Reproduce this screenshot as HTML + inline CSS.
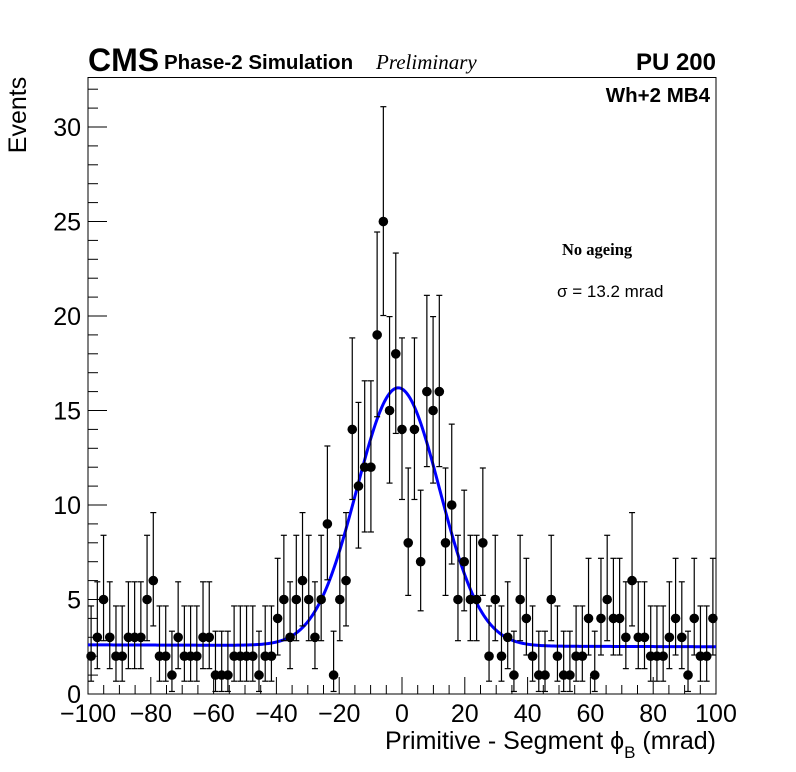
<!DOCTYPE html>
<html><head><meta charset="utf-8"><style>
html,body{margin:0;padding:0;background:#fff;}
svg{display:block;font-family:"Liberation Sans",sans-serif;}
</style></head><body>
<svg id="chart" width="796" height="772" viewBox="0 0 796 772">
<rect x="0" y="0" width="796" height="772" fill="#fff"/>
<g id="axes"></g>
<g id="fit"></g>
<g id="pts"></g>
<text x="88" y="71" font-size="32" font-weight="bold">CMS</text>
<text x="164" y="69" font-size="20.5" font-weight="bold">Phase-2 Simulation</text>
<text x="376" y="69" font-size="21" font-style="italic" font-family="Liberation Serif, serif">Preliminary</text>
<text x="716" y="70" font-size="24" font-weight="bold" text-anchor="end">PU 200</text>
<text x="710" y="102" font-size="20.5" font-weight="bold" text-anchor="end">Wh+2 MB4</text>
<text x="562" y="255" font-size="16.5" font-weight="bold" font-family="Liberation Serif, serif">No ageing</text>
<text x="557" y="297" font-size="17">σ = 13.2 mrad</text>
<text transform="translate(26,115) rotate(-90)" font-size="25" text-anchor="middle">Events</text>
<text x="716" y="749" font-size="25" text-anchor="end">Primitive - Segment ϕ<tspan font-size="17" dy="9">B</tspan><tspan dy="-9"> (mrad)</tspan></text>
</svg>
<script>
const counts=[2,3,5,3,2,2,3,3,3,5,6,2,2,1,3,2,2,2,3,3,1,1,1,2,2,2,2,1,2,2,4,5,3,5,6,5,3,5,9,1,5,6,14,11,12,12,19,25,15,18,14,8,14,7,16,15,16,8,10,5,7,5,5,8,2,5,2,3,1,5,4,2,1,1,5,2,1,1,2,2,4,1,4,5,4,4,3,6,3,3,2,2,2,3,4,3,1,4,2,2,4];
const xTicks=[-100,-80,-60,-40,-20,0,20,40,60,80,100];
const yTicks=[0,5,10,15,20,25,30];
const fitAmp=[13.65];
const fitMean=[-1.2];
const fitSigma=[13.2];
const fitConst=[2.6,2.5];
const NS="http://www.w3.org/2000/svg";
const X0=88,X1=716,Y0=694,YT=77.5,XMIN=-100,XMAX=100;
const sx=v=>X0+(v-XMIN)/(XMAX-XMIN)*(X1-X0);
const sy=v=>Y0-v*(567/30);
function mk(tag,attrs,parent){const e=document.createElementNS(NS,tag);for(const k in attrs)e.setAttribute(k,attrs[k]);parent.appendChild(e);return e;}
const axes=document.getElementById('axes');
const fr=mk('rect',{x:X0,y:YT,width:X1-X0,height:Y0-YT,fill:'none',stroke:'#000','stroke-width':1},axes);


for(let v=XMIN;v<=XMAX;v+=5){const major=(v%20===0);
 const t=mk('line',{x1:sx(v),x2:sx(v),y1:Y0,y2:Y0-(major?17:9),stroke:'#000','stroke-width':1},axes);
 
 }
xTicks.forEach(v=>{const t=mk('text',{x:sx(v),y:722,'font-size':25,'text-anchor':'middle'},axes);t.textContent=(v<0?'\u2212':'')+Math.abs(v);
 
 });
for(let v=0;v<=32;v++){const major=(v%5===0);
 const t=mk('line',{x1:X0,x2:X0+(major?19:10),y1:sy(v),y2:sy(v),stroke:'#000','stroke-width':1},axes);
 
 }
yTicks.forEach(v=>{const t=mk('text',{x:81,y:sy(v)+9,'font-size':25,'text-anchor':'end'},axes);t.textContent=v;
 
 });
const fg=document.getElementById('fit');let d='';
for(let i=0;i<=400;i++){const x=XMIN+i*(XMAX-XMIN)/400;
 const c=fitConst[0]+(fitConst[1]-fitConst[0])*(x-XMIN)/(XMAX-XMIN);
 const y=c+fitAmp[0]*Math.exp(-Math.pow(x-fitMean[0],2)/(2*fitSigma[0]*fitSigma[0]));
 d+=(i?'L':'M')+sx(x).toFixed(2)+','+sy(y).toFixed(2);}
const fp=mk('path',{d:d,fill:'none',stroke:'#0000ff','stroke-width':3},fg);


const pg=document.getElementById('pts');const n=counts.length;const bw=(XMAX-XMIN)/n;
counts.forEach((c,i)=>{const xc=XMIN+(i+0.5)*bw;const px=sx(xc);
 const lo=c-Math.sqrt(Math.max(c-0.25,0));const hi=c+Math.sqrt(c+0.75)+1;
 const g=mk('g',{},pg);
 
 
 mk('line',{x1:px,x2:px,y1:sy(lo),y2:sy(hi),stroke:'#000','stroke-width':1.2},g);
 mk('line',{x1:px-3,x2:px+3,y1:sy(hi),y2:sy(hi),stroke:'#000','stroke-width':1.2},g);
 if(lo>0.05)mk('line',{x1:px-3,x2:px+3,y1:sy(lo),y2:sy(lo),stroke:'#000','stroke-width':1.2},g);
 mk('circle',{cx:px,cy:sy(c),r:4.8,fill:'#000'},g);});
</script>
</body></html>
